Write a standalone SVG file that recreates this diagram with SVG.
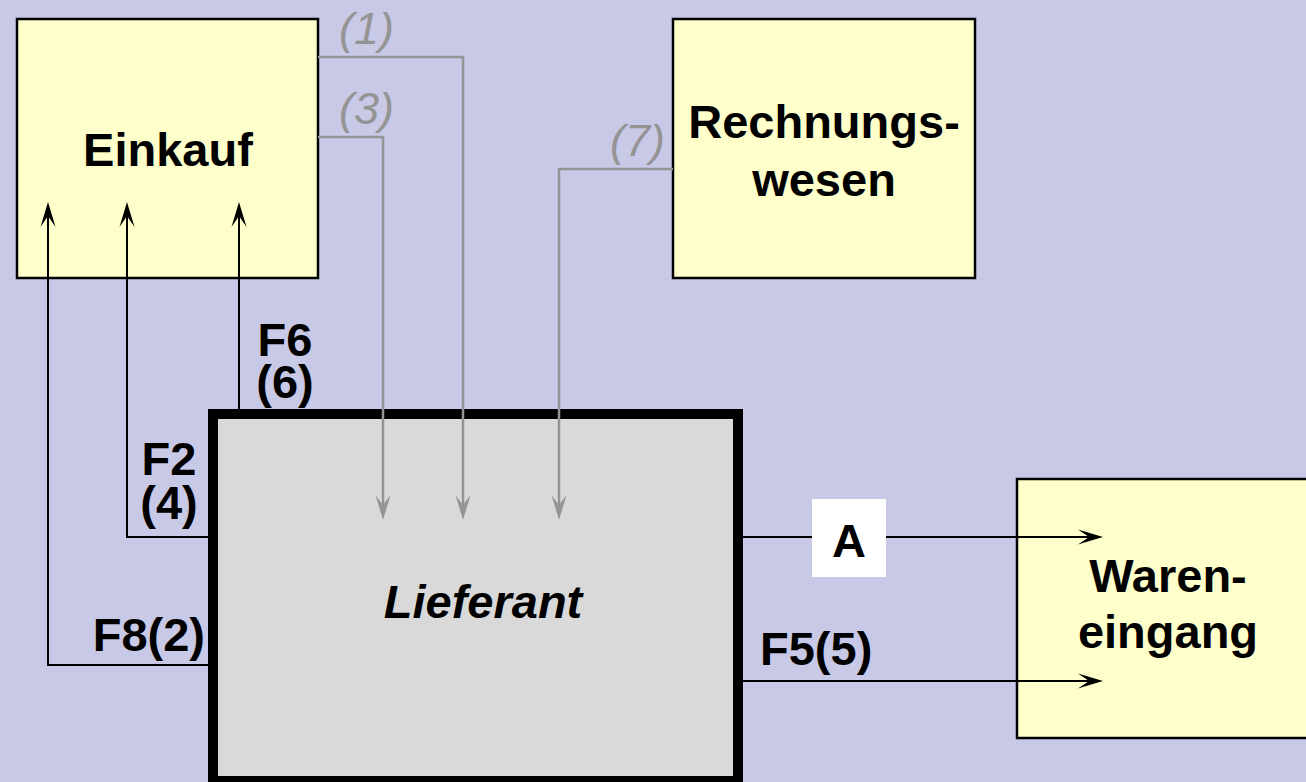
<svg xmlns="http://www.w3.org/2000/svg" width="1306" height="782" viewBox="0 0 1306 782">
  <style>
    .box { fill: #FFFFCC; stroke: #000; stroke-width: 2.5; }
    .main { fill: #D9D9D9; stroke: #000; stroke-width: 10; }
    .lbl { font-family: "Liberation Sans", Arial, sans-serif; font-weight: bold; font-size: 47px; fill: #000; }
    .glbl { font-family: "Liberation Sans", Arial, sans-serif; font-style: italic; font-size: 45px; fill: #949494; }
    .blk { fill: none; stroke: #000; stroke-width: 2; }
    .gry { fill: none; stroke: #949494; stroke-width: 2.5; }
  </style>
  <defs>
    <marker id="ab" markerUnits="userSpaceOnUse" markerWidth="26" markerHeight="16" refX="13" refY="7.5" orient="auto" viewBox="0 0 26 15">
      <path d="M0,0 L25,7.5 L0,15 L11,7.5 Z" fill="#000"/>
    </marker>
    <marker id="ag" markerUnits="userSpaceOnUse" markerWidth="26" markerHeight="16" refX="13" refY="7.5" orient="auto" viewBox="0 0 26 15">
      <path d="M0,0 L25,7.5 L0,15 L10,7.5 Z" fill="#949494"/>
    </marker>
  </defs>
  <rect x="0" y="0" width="1306" height="782" fill="#C8C8E7"/>

  <g id="einkauf">
    <rect class="box" x="17" y="19" width="301" height="259"/>
    <text class="lbl" x="168" y="166" text-anchor="middle">Einkauf</text>
  </g>
  <g id="rechnungswesen">
    <rect class="box" x="673" y="19" width="302" height="259"/>
    <text class="lbl" text-anchor="middle"><tspan x="824" y="138">Rechnungs-</tspan><tspan x="824" y="196">wesen</tspan></text>
  </g>
  <g id="wareneingang">
    <rect class="box" x="1017" y="479" width="302" height="259"/>
    <text class="lbl" text-anchor="middle"><tspan x="1168" y="592">Waren-</tspan><tspan x="1168" y="648">eingang</tspan></text>
  </g>
  <g id="lieferant">
    <rect class="main" x="213" y="414" width="525" height="367"/>
    <text class="lbl" x="483" y="618" text-anchor="middle" font-style="italic">Lieferant</text>
  </g>

  <g id="connectors">
    <path class="blk" d="M208,665 H48 V214" marker-end="url(#ab)"/>
    <path class="blk" d="M208,537 H127 V214" marker-end="url(#ab)"/>
    <path class="blk" d="M239,409 V214" marker-end="url(#ab)"/>
    <path class="blk" d="M743,537 H1091" marker-end="url(#ab)"/>
    <path class="blk" d="M743,681 H1091" marker-end="url(#ab)"/>
    <path class="gry" d="M318,57 H463 V508" marker-end="url(#ag)"/>
    <path class="gry" d="M318,137 H383 V508" marker-end="url(#ag)"/>
    <path class="gry" d="M673,169 H559 V508" marker-end="url(#ag)"/>
  </g>

  <g id="labels">
    <text class="glbl" x="339" y="44">(1)</text>
    <text class="glbl" x="339" y="124">(3)</text>
    <text class="glbl" x="610" y="156">(7)</text>
    <text class="lbl" text-anchor="middle"><tspan x="285" y="356">F6</tspan><tspan x="285" y="398">(6)</tspan></text>
    <text class="lbl" text-anchor="middle"><tspan x="169" y="475">F2</tspan><tspan x="169" y="519">(4)</tspan></text>
    <text class="lbl" x="205" y="651" text-anchor="end">F8(2)</text>
    <text class="lbl" x="760" y="665">F5(5)</text>
    <rect x="812" y="499" width="74" height="78" fill="#FFFFFF"/>
    <text class="lbl" x="849" y="557" text-anchor="middle">A</text>
  </g>
</svg>
